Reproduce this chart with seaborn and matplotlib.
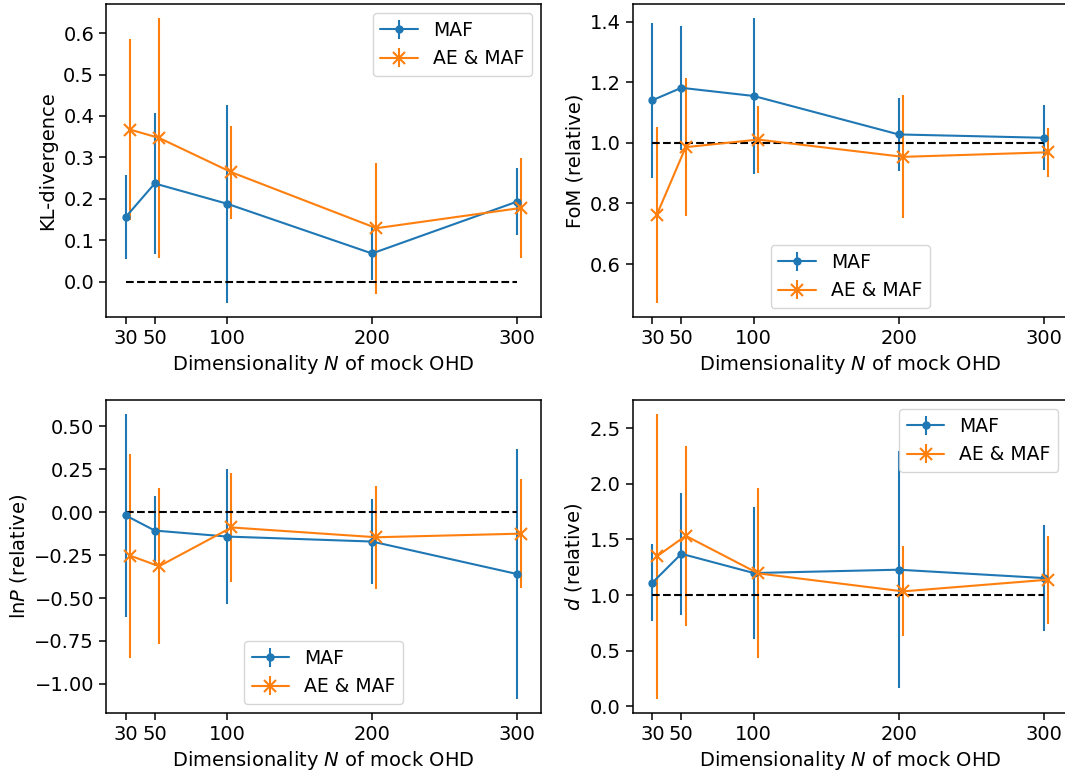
import numpy as np
import matplotlib
matplotlib.use("Agg")
import matplotlib.pyplot as plt
import seaborn as sns

# dimensionality of mock OHD
n_maf = [30, 50, 100, 200, 300]
n_ae = [33, 53, 103, 203, 303]  # AE & MAF points are shifted a bit to the right

# KL-divergence
kl_maf = [0.156, 0.237, 0.188, 0.068, 0.193]
kl_maf_err = [0.101, 0.171, 0.239, 0.065, 0.081]
kl_ae = [0.367, 0.347, 0.264, 0.129, 0.178]
kl_ae_err = [0.219, 0.289, 0.112, 0.158, 0.121]

# FoM (relative)
fom_maf = [1.141, 1.182, 1.155, 1.028, 1.017]
fom_maf_err = [0.256, 0.205, 0.257, 0.121, 0.107]
fom_ae = [0.762, 0.986, 1.011, 0.954, 0.969]
fom_ae_err = [0.290, 0.227, 0.110, 0.203, 0.081]

# lnP (relative)
lnp_maf = [-0.019, -0.107, -0.142, -0.171, -0.360]
lnp_maf_err = [0.590, 0.204, 0.394, 0.245, 0.727]
lnp_ae = [-0.253, -0.315, -0.089, -0.146, -0.125]
lnp_ae_err = [0.594, 0.455, 0.318, 0.301, 0.317]

# d (relative)
d_maf = [1.111, 1.371, 1.198, 1.228, 1.153]
d_maf_err = [0.345, 0.548, 0.590, 1.066, 0.474]
d_ae = [1.347, 1.533, 1.195, 1.033, 1.138]
d_ae_err = [1.280, 0.810, 0.765, 0.404, 0.394]

ref_x = [30, 300]

sns.set_theme(style="ticks", rc={
    "font.size": 14, "axes.labelsize": 14, "xtick.labelsize": 14,
    "ytick.labelsize": 14, "legend.fontsize": 13.5,
    "axes.edgecolor": "black", "axes.linewidth": 1.1,
    "xtick.color": "black", "ytick.color": "black",
    "xtick.major.width": 1.1, "ytick.major.width": 1.1,
    "xtick.major.size": 5, "ytick.major.size": 5,
    "text.color": "black", "axes.labelcolor": "black",
})
plt.rcParams["font.family"] = ["DejaVu Sans"]

blue, orange = sns.color_palette("tab10", 2)

fig = plt.figure(figsize=(10.65, 7.76), dpi=100)
w, h = 0.4085, 0.4034
positions = [(0.0995, 0.5915), (0.594, 0.5915), (0.0995, 0.0812), (0.594, 0.0812)]

panels = [
    (kl_maf, kl_maf_err, kl_ae, kl_ae_err, 0.0, "KL-divergence", "upper right"),
    (fom_maf, fom_maf_err, fom_ae, fom_ae_err, 1.0, "FoM (relative)", "lower center"),
    (lnp_maf, lnp_maf_err, lnp_ae, lnp_ae_err, 0.0, r"ln$P$ (relative)", "lower center"),
    (d_maf, d_maf_err, d_ae, d_ae_err, 1.0, r"$d$ (relative)", "upper right"),
]

for (l, b), (m, me, a, ae, ref, ylabel, loc) in zip(positions, panels):
    ax = fig.add_axes([l, b, w, h])
    ax.errorbar(n_maf, m, yerr=me, color=blue, marker="o", markersize=5,
                lw=1.5, elinewidth=1.5, label="MAF")
    ax.errorbar(n_ae, a, yerr=ae, color=orange, marker="x", markersize=8,
                markeredgewidth=1.5, lw=1.5, elinewidth=1.5, label="AE & MAF")
    sns.lineplot(x=ref_x, y=[ref, ref], ax=ax, color="black",
                 linestyle="--", lw=1.5, legend=False)
    ax.set_xticks([30, 50, 100, 200, 300])
    ax.set_xlabel(r"Dimensionality $N$ of mock OHD")
    ax.set_ylabel(ylabel)
    ax.legend(loc=loc)

fig.savefig("out.png", dpi=100)
